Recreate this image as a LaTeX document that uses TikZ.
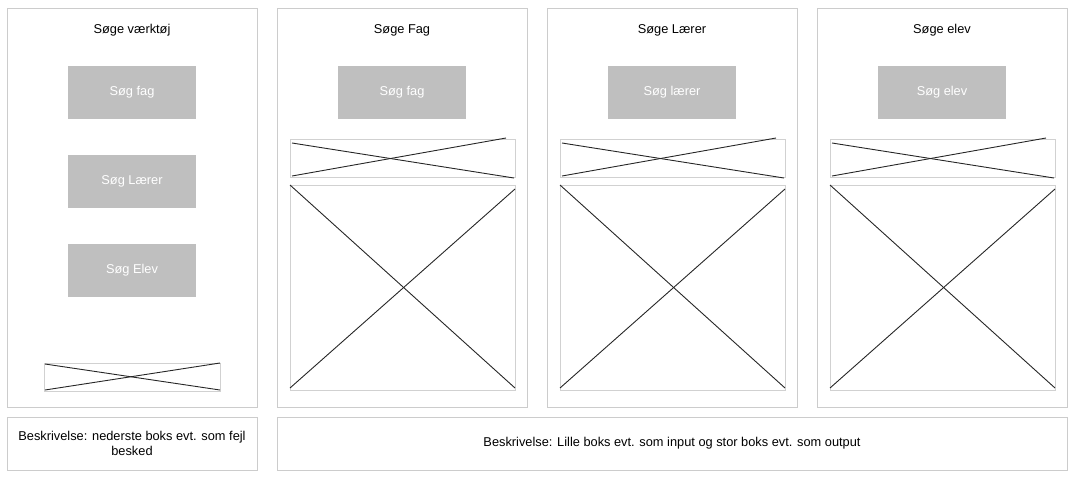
\documentclass[tikz,border=0pt]{standalone}
\usepackage{fontspec}
\setmainfont{Liberation Sans}
\usepackage{tikz}

\begin{document}
\begin{tikzpicture}[x=1pt, y=-1pt, font=\fontsize{12.8}{15}\selectfont,
	panel/.style = {draw=black!20, line width=1pt, inner sep=0pt, outer sep=0pt},
	knap/.style = {fill=black!25, text=white, minimum width=128pt, minimum height=53pt, inner sep=0pt},
	felt/.style = {draw=black!18, line width=1pt, inner sep=0pt, outer sep=0pt},
	kryds/.style = {draw=black!85, line width=0.9pt}]
	\useasboundingbox (0,0) rectangle (1073,480);
	% panel 1: soegevaerktoej
	\node[panel, minimum width=250pt, minimum height=399pt] (p1) at (132,207.5) {};
	\node (t1) at (132,30) {Søge værktøj};
	\node[knap] (b1) at (132,92.5) {Søg fag};
	\node[knap] (b2) at (132,181.5) {Søg Lærer};
	\node[knap] (b3) at (132,270.5) {Søg Elev};
	\node[felt, minimum width=176pt, minimum height=28pt] (fejl) at (132,377) {};
	\draw[kryds] ([shift={(1,1)}]fejl.north west) -- ([shift={(0,-1)}]fejl.south east);
	\draw[kryds] ([shift={(1,-1)}]fejl.south west) -- ([shift={(0,0)}]fejl.north east);
	% panel 2: fag
	\node[panel, minimum width=250pt, minimum height=399pt] (p2) at (402,207.5) {};
	\node (t2) at (402,30) {Søge Fag};
	\node[knap] (b4) at (402,92.5) {Søg fag};
	\node[felt, minimum width=225pt, minimum height=38pt] (in2) at (402.5,158) {};
	\draw[kryds] ([shift={(2,4)}]in2.north west) -- ([shift={(-1,1)}]in2.south east);
	\draw[kryds] ([shift={(2,-1)}]in2.south west) -- ([shift={(-9,-1)}]in2.north east);
	\node[felt, minimum width=225pt, minimum height=205pt] (ud2) at (402.5,287.5) {};
	\draw[kryds] (ud2.north west) -- ([shift={(0,-2)}]ud2.south east);
	\draw[kryds] ([shift={(0,-2)}]ud2.south west) -- ([shift={(0,4)}]ud2.north east);
	% panel 3: laerer
	\node[panel, minimum width=250pt, minimum height=399pt] (p3) at (672,207.5) {};
	\node (t3) at (672,30) {Søge Lærer};
	\node[knap] (b5) at (672,92.5) {Søg lærer};
	\node[felt, minimum width=225pt, minimum height=38pt] (in3) at (672.5,158) {};
	\draw[kryds] ([shift={(2,4)}]in3.north west) -- ([shift={(-1,1)}]in3.south east);
	\draw[kryds] ([shift={(2,-1)}]in3.south west) -- ([shift={(-9,-1)}]in3.north east);
	\node[felt, minimum width=225pt, minimum height=205pt] (ud3) at (672.5,287.5) {};
	\draw[kryds] (ud3.north west) -- ([shift={(0,-2)}]ud3.south east);
	\draw[kryds] ([shift={(0,-2)}]ud3.south west) -- ([shift={(0,4)}]ud3.north east);
	% panel 4: elev
	\node[panel, minimum width=250pt, minimum height=399pt] (p4) at (942,207.5) {};
	\node (t4) at (942,30) {Søge elev};
	\node[knap] (b6) at (942,92.5) {Søg elev};
	\node[felt, minimum width=225pt, minimum height=38pt] (in4) at (942.5,158) {};
	\draw[kryds] ([shift={(2,4)}]in4.north west) -- ([shift={(-1,1)}]in4.south east);
	\draw[kryds] ([shift={(2,-1)}]in4.south west) -- ([shift={(-9,-1)}]in4.north east);
	\node[felt, minimum width=225pt, minimum height=205pt] (ud4) at (942.5,287.5) {};
	\draw[kryds] (ud4.north west) -- ([shift={(0,-2)}]ud4.south east);
	\draw[kryds] ([shift={(0,-2)}]ud4.south west) -- ([shift={(0,4)}]ud4.north east);
	% beskrivelser
	\node[panel, minimum width=250pt, minimum height=53pt, align=center] (d1) at (132,443.5) {Beskrivelse: nederste boks evt. som fejl\\besked};
	\node[panel, minimum width=790pt, minimum height=53pt] (d2) at (672,443.5) {Beskrivelse: Lille boks evt. som input og stor boks evt. som output};
\end{tikzpicture}
\end{document}
